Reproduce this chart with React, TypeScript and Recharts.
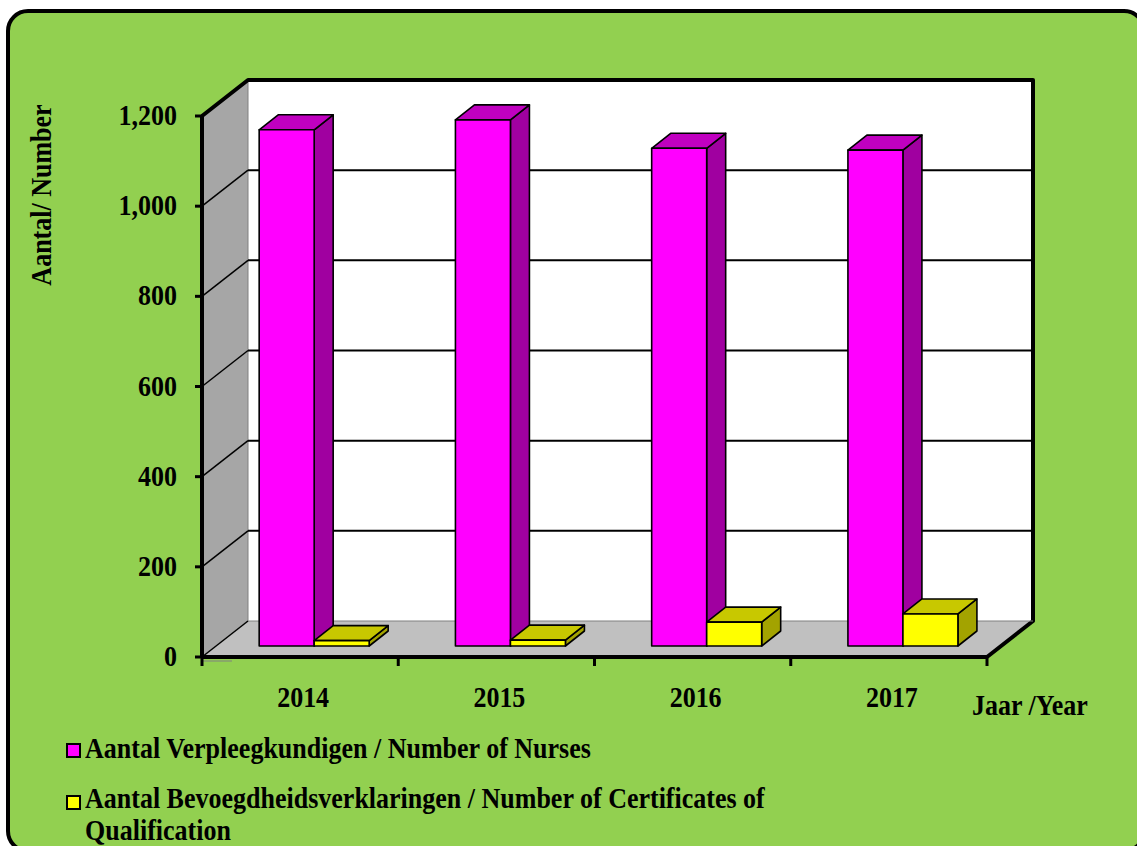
import React from 'react';
import { BarChart, Bar, XAxis, YAxis, CartesianGrid } from 'recharts';

// values
const YEARS = ['2014', '2015', '2016', '2017'];
const NURSES = [1145, 1167, 1104, 1100];
const CERTIFICATES = [12, 13, 53, 71];
const Y_TICKS = [0, 200, 400, 600, 800, 1000, 1200];

const SERIES_NAMES = [
  'Aantal Verpleegkundigen / Number of Nurses',
  'Aantal Bevoegdheidsverklaringen / Number of Certificates of Qualification',
];

const data = YEARS.map((year, i) => ({ year, nurses: NURSES[i], certs: CERTIFICATES[i] }));

const W = 1137;
const H = 846;
// front plane of the 3D box
const PLOT = { left: 202, top: 116, right: 987, bottom: 657 };
const DEPTH = { dx: 46, dy: 36 }; // front -> back wall
const BAR_OFF = { dx: 14, dy: 11 }; // front -> bar plane
const BAR_DEPTH = { dx: 19, dy: 15 };
const Y_AXIS_W = 120;
const X_AXIS_H = 60;
const BAND = (PLOT.right - PLOT.left) / YEARS.length;

const FONT = '"Liberation Serif", "Times New Roman", serif';
const GREEN = '#92D050';
const STRETCH = 1.1; // the source text is a bit taller than plain Times

const COLORS = [
  { front: '#FF00FF', top: '#C000C0', side: '#A000A0' },
  { front: '#FFFF00', top: '#C8C800', side: '#A3A300' },
];

const Label = ({ x, y, anchor = 'start', rotate = 0, children }: any) => (
  <text
    transform={`translate(${x},${y}) rotate(${rotate}) scale(1,${STRETCH})`}
    textAnchor={anchor}
    fill="#000"
    fontSize={26}
    fontWeight={700}
    fontFamily={FONT}
  >
    {children}
  </text>
);

const Box3D = (props: any) => {
  const { x, y, width, height, front, top, side } = props;
  if (height == null || width == null) return null;
  const x0 = x + BAR_OFF.dx;
  const y0 = y - BAR_OFF.dy;
  const x1 = x0 + width;
  const y1 = y0 + height;
  const bx = BAR_DEPTH.dx;
  const by = BAR_DEPTH.dy;
  return (
    <g stroke="#000" strokeWidth={1.6} strokeLinejoin="round">
      <polygon points={`${x1},${y0} ${x1 + bx},${y0 - by} ${x1 + bx},${y1 - by} ${x1},${y1}`} fill={side} />
      <polygon points={`${x0},${y0} ${x0 + bx},${y0 - by} ${x1 + bx},${y0 - by} ${x1},${y0}`} fill={top} />
      <rect x={x0} y={y0} width={width} height={height} fill={front} />
    </g>
  );
};

const GridLine = (props: any) => {
  const { y1, index } = props;
  const isFloor = y1 >= PLOT.bottom - 1;
  return (
    <g key={`grid-${index}`}>
      <line
        x1={PLOT.left + DEPTH.dx}
        x2={PLOT.right + DEPTH.dx}
        y1={y1 - DEPTH.dy}
        y2={y1 - DEPTH.dy}
        stroke={isFloor ? '#808080' : '#000'}
        strokeWidth={isFloor ? 1 : 2}
      />
      <line x1={PLOT.left} y1={y1} x2={PLOT.left + DEPTH.dx} y2={y1 - DEPTH.dy} stroke="#000" strokeWidth={1.5} />
    </g>
  );
};

const YearTick = (props: any) => {
  const { x, y, payload, index } = props;
  return (
    <g>
      {index === 0 && <line x1={x - BAND / 2} x2={x - BAND / 2} y1={y} y2={y + 9} stroke="#000" strokeWidth={3} />}
      <line x1={x + BAND / 2} x2={x + BAND / 2} y1={y} y2={y + 9} stroke="#000" strokeWidth={3} />
      <Label x={x + 3} y={y + 50} anchor="middle">
        {payload.value}
      </Label>
    </g>
  );
};

const ValueTick = (props: any) => {
  const { x, y, payload } = props;
  return (
    <Label x={x} y={y + 9} anchor="end">
      {Number(payload.value).toLocaleString('en-US')}
    </Label>
  );
};

const Walls = () => {
  const bl = PLOT.left + DEPTH.dx;
  const br = PLOT.right + DEPTH.dx;
  const bt = PLOT.top - DEPTH.dy;
  const bb = PLOT.bottom - DEPTH.dy;
  return (
    <svg width={W} height={H} style={{ position: 'absolute', left: 0, top: 0 }}>
      <polygon points={`${PLOT.left},${PLOT.top} ${bl},${bt} ${bl},${bb} ${PLOT.left},${PLOT.bottom}`} fill="#A6A6A6" />
      <rect x={bl} y={bt} width={br - bl} height={bb - bt} fill="#fff" />
      <polygon points={`${PLOT.left},${PLOT.bottom} ${bl},${bb} ${br},${bb} ${PLOT.right},${PLOT.bottom}`} fill="#C0C0C0" />
      <line x1={bl} x2={bl} y1={bt} y2={bb} stroke="#808080" strokeWidth={1} />
      <line x1={PLOT.left} x2={PLOT.left + 30} y1={PLOT.bottom + 4} y2={PLOT.bottom + 4} stroke="#808080" strokeWidth={1} />
      <polyline
        points={`${PLOT.left},${PLOT.top} ${bl},${bt} ${br},${bt} ${br},${bb} ${PLOT.right},${PLOT.bottom}`}
        fill="none"
        stroke="#000"
        strokeWidth={4}
        strokeLinejoin="round"
      />
      <Label x={51} y={195} anchor="middle" rotate={-90}>
        Aantal/ Number
      </Label>
      <Label x={972} y={715}>
        Jaar /Year
      </Label>
    </svg>
  );
};

const LegendBlock = () => (
  <div style={{ position: 'absolute', left: 66, top: 734, fontFamily: FONT, fontWeight: 700, fontSize: 26, lineHeight: '29px' }}>
    {SERIES_NAMES.map((name, i) => (
      <div key={name} style={{ display: 'flex', alignItems: 'flex-start', marginBottom: 23 }}>
        <span
          style={{
            display: 'inline-block',
            width: 11,
            height: 11,
            marginTop: 9,
            marginRight: 4,
            border: '2px solid #000',
            background: COLORS[i].front,
          }}
        />
        <span style={{ display: 'inline-block', width: 700, transform: `scaleY(${STRETCH})` }}>{name}</span>
      </div>
    ))}
  </div>
);

export default function App() {
  return (
    <div style={{ position: 'fixed', left: 0, top: 0, width: W, height: H, overflow: 'hidden', background: '#fff' }}>
      <div
        style={{
          position: 'absolute',
          left: 6,
          top: 9,
          width: 1140,
          height: 844,
          boxSizing: 'border-box',
          border: '4px solid #000',
          borderRadius: 22,
          background: GREEN,
        }}
      />
      <Walls />
      <div style={{ position: 'absolute', left: 0, top: 0 }}>
        <BarChart
          width={W}
          height={H}
          data={data}
          margin={{
            top: PLOT.top,
            right: W - PLOT.right,
            bottom: H - PLOT.bottom - X_AXIS_H,
            left: PLOT.left - Y_AXIS_W,
          }}
          barCategoryGap="22%"
          barGap={0}
        >
          <CartesianGrid vertical={false} horizontal={(p: any) => <GridLine {...p} />} />
          <XAxis
            dataKey="year"
            height={X_AXIS_H}
            axisLine={{ stroke: '#000', strokeWidth: 4 }}
            tickLine={false}
            tickSize={0}
            tickMargin={0}
            tick={<YearTick />}
            interval={0}
          />
          <YAxis
            width={Y_AXIS_W}
            domain={[0, 1200]}
            ticks={Y_TICKS}
            interval={0}
            axisLine={{ stroke: '#000', strokeWidth: 4 }}
            tickLine={{ stroke: '#000', strokeWidth: 3 }}
            tickSize={7}
            tickMargin={18}
            tick={<ValueTick />}
          />
          <Bar
            dataKey="nurses"
            name={SERIES_NAMES[0]}
            isAnimationActive={false}
            shape={(p: any) => <Box3D {...p} {...COLORS[0]} />}
          />
          <Bar
            dataKey="certs"
            name={SERIES_NAMES[1]}
            isAnimationActive={false}
            shape={(p: any) => <Box3D {...p} {...COLORS[1]} />}
          />
        </BarChart>
      </div>
      <LegendBlock />
    </div>
  );
}
